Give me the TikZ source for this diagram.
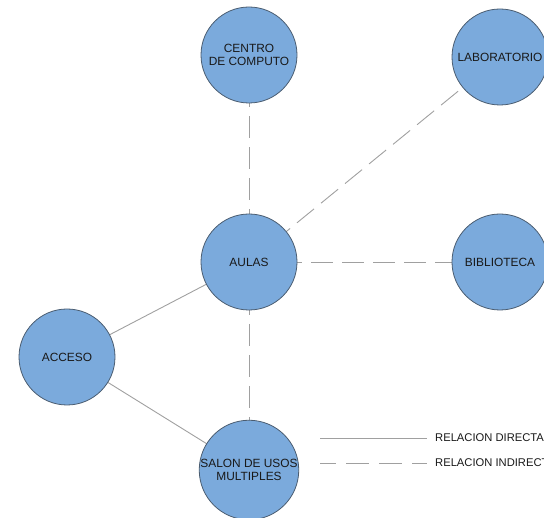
\documentclass[tikz,border=0pt]{standalone}
\usepackage{fontspec}
\setmainfont{Liberation Sans}
\definecolor{zonefill}{HTML}{7BAADC}
\definecolor{zoneedge}{HTML}{4A5C70}
\definecolor{linkgray}{HTML}{A0A0A0}
\begin{document}
\begin{tikzpicture}[x=1pt,y=-1pt,
  zone/.style={circle,draw=zoneedge,line width=0.8pt,fill=zonefill,minimum size=96pt,inner sep=0pt,
    font=\fontsize{11.9}{13.5}\selectfont,align=center,text=black!90},
  direct/.style={draw=linkgray,line width=0.9pt},
  indirect/.style={draw=linkgray,line width=0.9pt,dash pattern=on 22pt off 9pt},
  legendtext/.style={anchor=west,inner sep=0pt,font=\fontsize{11.2}{13}\selectfont,text=black!90}]
\useasboundingbox (0,0) rectangle (544,518);
\clip (0,0) rectangle (544,518);
% links (drawn first so the circles sit on top)
\coordinate (cc) at (249,55);
\coordinate (lab) at (500,57);
\coordinate (au) at (249,262);
\coordinate (bib) at (500,262);
\coordinate (acc) at (67,357);
\coordinate (sal) at (249,470);
\draw[indirect] (au) -- (cc);
\draw[indirect] (au) -- (lab);
\draw[indirect] (au) -- (bib);
\draw[indirect] (au) -- (sal);
\draw[direct] (au) -- (acc);
\draw[direct] (acc) -- (sal);
% zones
\node[zone] (ncc) at (cc) {CENTRO\\DE COMPUTO};
\node[zone] (nlab) at (lab) {LABORATORIO};
\node[zone] (nau) at (au) {AULAS};
\node[zone] (nbib) at (bib) {BIBLIOTECA};
\node[zone] (nacc) at (acc) {ACCESO};
\node[zone] (nsal) at (sal) {SALON DE USOS\\MULTIPLES};
% legend
\coordinate (d1) at (320,438);
\coordinate (d2) at (427,438);
\coordinate (i1) at (320,463);
\coordinate (i2) at (427,463);
\draw[direct] (d1) -- (d2);
\draw[draw=linkgray,line width=0.9pt,dash pattern=on 16pt off 10pt on 23pt off 10pt on 23pt off 10pt on 15pt] (i1) -- (i2);
\node[legendtext] (ld) at (435,438) {RELACION DIRECTA};
\node[legendtext] (li) at (435,463) {RELACION INDIRECTA};
\end{tikzpicture}
\end{document}
